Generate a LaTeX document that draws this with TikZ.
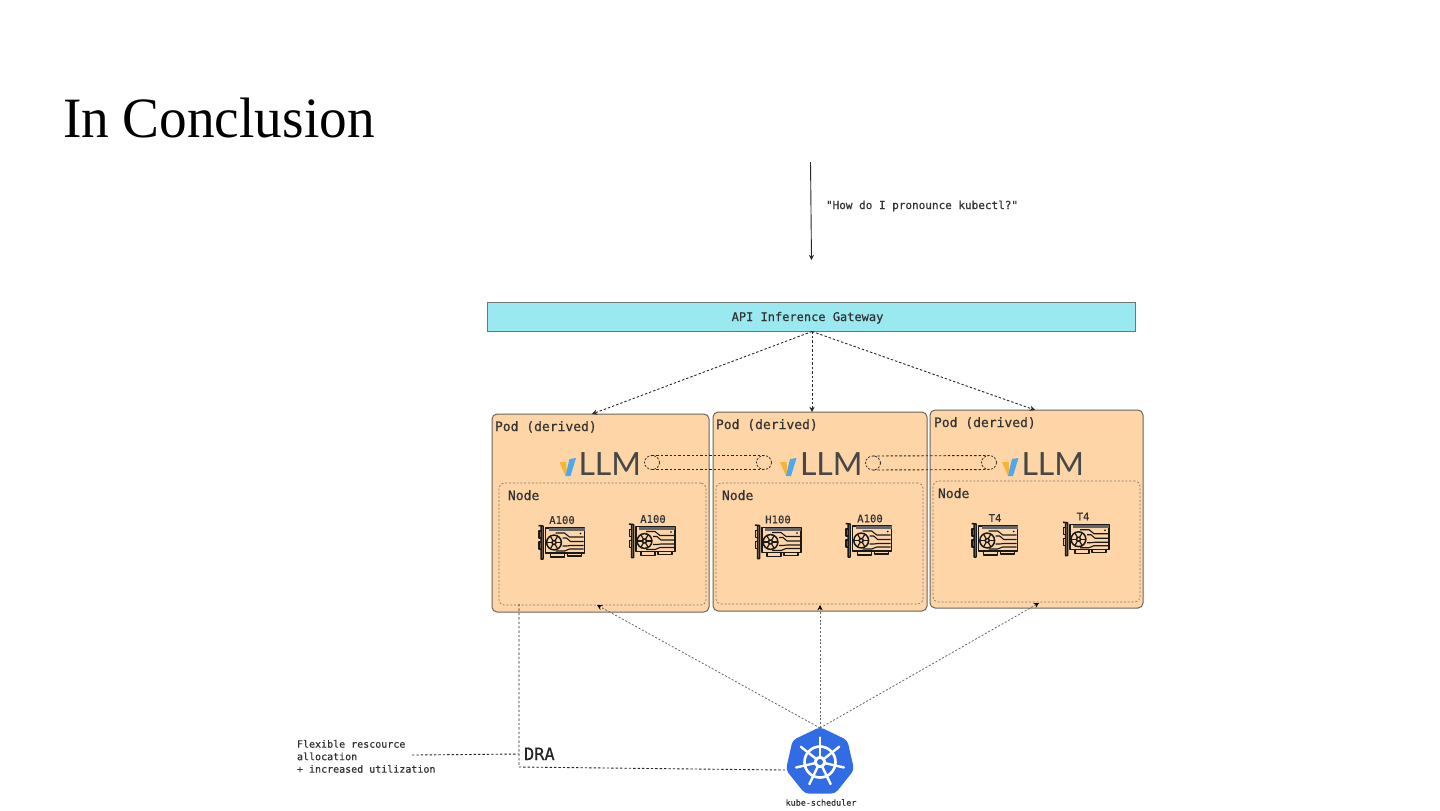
\documentclass[tikz,border=0pt]{standalone}
\usepackage{fontspec}
\setmainfont{Liberation Serif}
\newfontfamily\titlefont[FakeStretch=0.97]{Liberation Serif}
\newfontfamily\codefont[FakeBold=0.5]{DejaVu Sans Mono}
\newfontfamily\logofont{Lato}
\usetikzlibrary{arrows.meta,shapes.geometric,calc}
\definecolor{podfill}{HTML}{FDD5A6}
\definecolor{podline}{HTML}{6B655C}
\definecolor{gwfill}{HTML}{9AE8F0}
\definecolor{inktext}{HTML}{333333}
\definecolor{kubeblue}{HTML}{326CE5}
\definecolor{vorange}{HTML}{F9B233}
\definecolor{vblue}{HTML}{4DA8EE}
\tikzset{
  x=0.5pt,y=-0.5pt,
  podbox/.style={draw=podline,fill=podfill,line width=0.5pt,rounded corners=2.5pt,inner sep=0pt,outer sep=0pt},
  nodebox/.style={draw=podline!85,dash pattern=on 1pt off 0.9pt,line width=0.35pt,rounded corners=2.5pt,inner sep=0pt,outer sep=0pt},
  lab/.style={inner sep=0pt,outer sep=0pt,text=inktext,font=\codefont},
  podlab/.style={lab,anchor=base west,font=\codefont\fontsize{6.5pt}{8pt}\selectfont},
  gpulab/.style={lab,font=\codefont\fontsize{5.3pt}{6.5pt}\selectfont},
  llmlab/.style={inner sep=0pt,outer sep=0pt,anchor=base west,text=inktext!90,font=\logofont\fontsize{16pt}{18pt}\selectfont},
  link/.style={draw=black!85,dash pattern=on 1.2pt off 1pt,line width=0.45pt},
  linkarrow/.style={link,-{Stealth[length=2.6pt,width=2.6pt]}},
  softarrow/.style={draw=black!60,dash pattern=on 1pt off 0.9pt,line width=0.4pt,-{Stealth[length=2.6pt,width=2.6pt,black]}},
  ring/.style={ellipse,draw=black!80,dash pattern=on 1pt off 0.8pt,line width=0.4pt,minimum width=7.5pt,minimum height=7pt,inner sep=0pt,outer sep=0pt},
  pics/gpu/.style={code={
    \begin{scope}[draw=black!90,line width=0.75pt,line join=round]
      % bracket
      \draw (0,0.5) -- (4.5,1) -- (4.5,34) -- (2.5,34) -- (2.5,1);
      \draw (2.5,6) -- (0.5,6) -- (0.5,13) -- (2.5,13);
      \draw (2.5,17) -- (0.5,17) -- (0.5,24) -- (2.5,24);
      % board
      \draw (7,3) rectangle (46,28);
      \fill[black!60] (10,3) rectangle (46,6);
      % fan
      \draw (15.5,17.5) circle[radius=7.4];
      \draw (15.5,17.5) circle[radius=2];
      \foreach \a in {0,60,...,300}
        \draw[line width=0.6pt] ($(15.5,17.5)+(\a:2)$) -- ($(15.5,17.5)+(\a:7.4)$);
      % traces
      \draw[line width=0.55pt] (17,8) -- (26,8) -- (31,12) -- (45,12);
      \draw[line width=0.55pt] (24,13) -- (28,13) -- (32,16.5) -- (45,16.5);
      \draw[line width=0.55pt] (24,21) -- (28,21) -- (32,20.5) -- (45,20.5);
      \draw[line width=0.55pt] (17,26) -- (26,26) -- (31,24) -- (45,24);
      \fill[black] (42,8.5) circle[radius=0.9];
      % connector pins
      \draw (12,28) -- (12,32) -- (26,32) -- (26,28);
      \draw (29,28) -- (29,31) -- (43,31) -- (43,28);
    \end{scope}
  }},
  pics/vmark/.style={code={
    \fill[vorange] (0,4) -- (6.5,4) -- (7.3,13) -- (6,18) -- cycle;
    \fill[vblue] (10,1) -- (16.5,0) -- (11,18) -- (6,18) -- cycle;
  }},
}
\begin{document}
\begin{tikzpicture}
\useasboundingbox (0,0) rectangle (1440,810);
\fill[white] (0,0) rectangle (1440,810);

\node[inner sep=0pt,outer sep=0pt,anchor=base west,font=\titlefont\fontsize{28.5pt}{32pt}\selectfont,text=black] (title) at (63,137) {In Conclusion};

% request
\coordinate (reqtop) at (810.5,162);
\coordinate (reqend) at (811.5,260);
\draw[draw=black!85,line width=0.45pt,-{Stealth[length=2.6pt,width=2.6pt]}] (reqtop) -- (reqend);
\node[lab,anchor=base west,font=\codefont\fontsize{5.5pt}{7pt}\selectfont] (question) at (826,209) {"How do I pronounce kubectl?"};

% gateway
\node[draw=black!55,fill=gwfill,line width=0.4pt,minimum width=324pt,minimum height=14.5pt,inner sep=0pt,outer sep=0pt,text=inktext] (gw) at (811,316.5) {};
\node[lab,anchor=base,font=\codefont\fontsize{6pt}{7pt}\selectfont] (gwl) at (807.5,321) {API Inference Gateway};

% pods
\node[podbox,minimum width=108.5pt,minimum height=99pt] (pod1) at (600.5,513) {};
\node[podbox,minimum width=107pt,minimum height=99.5pt] (pod2) at (820,511.5) {};
\node[podbox,minimum width=106.5pt,minimum height=99pt] (pod3) at (1036.5,509) {};

\node[nodebox,minimum width=103.5pt,minimum height=61pt] (node1) at (602.5,544) {};
\node[nodebox,minimum width=103.5pt,minimum height=60.5pt] (node2) at (819.5,543.5) {};
\node[nodebox,minimum width=103.5pt,minimum height=60.5pt] (node3) at (1036.5,541.5) {};

\node[podlab] (p1l) at (495,431) {Pod (derived)};
\node[podlab] (p2l) at (716,429) {Pod (derived)};
\node[podlab] (p3l) at (934,427) {Pod (derived)};
\node[podlab] (n1l) at (508,500) {Node};
\node[podlab] (n2l) at (722,500) {Node};
\node[podlab] (n3l) at (938,498) {Node};

% vLLM logos
\pic at (559.5,458) {vmark};
\pic at (780,458) {vmark};
\pic at (1002,458) {vmark};
\node[llmlab] (llm1) at (578.5,475.5) {LLM};
\node[llmlab] (llm2) at (800,475.5) {LLM};
\node[llmlab] (llm3) at (1021.5,475.5) {LLM};

% cylinders between vLLM
\node[ring] (c1a) at (652,462.5) {};
\node[ring] (c1b) at (764,462.5) {};
\node[ring] (c2a) at (873,463) {};
\node[ring] (c2b) at (989,462.5) {};
\draw[link] (c1a.north) -- (c1b.north);
\draw[link] (c1a.south) -- (c1b.south);
\draw[link] (c2a.north) -- (c2b.north);
\draw[link] (c2a.south) -- (c2b.south);

% GPUs
\pic at (538.5,525) {gpu};
\pic at (629,523.5) {gpu};
\pic at (755,524.5) {gpu};
\pic at (845.7,523) {gpu};
\pic at (971.7,523) {gpu};
\pic at (1063,521.7) {gpu};
\node[gpulab] (g1) at (562,520) {A100};
\node[gpulab] (g2) at (653,519) {A100};
\node[gpulab] (g3) at (778,519.5) {H100};
\node[gpulab] (g4) at (870,518.5) {A100};
\node[gpulab] (g5) at (995,518) {T4};
\node[gpulab] (g6) at (1083,516.5) {T4};

% gateway -> pods
\coordinate (gwp) at (812,331.5);
\coordinate (a1) at (592,414);
\coordinate (a2) at (812,412);
\coordinate (a3) at (1035,410);
\draw[linkarrow] (gwp) -- (a1);
\draw[linkarrow] (gwp) -- (a2);
\draw[linkarrow] (gwp) -- (a3);

% scheduler
\node[regular polygon,regular polygon sides=7,fill=kubeblue,rounded corners=2pt,minimum size=35pt,inner sep=0pt,outer sep=0pt] (kube) at (820,762) {};
\begin{scope}[shift={(kube.center)}]
  \draw[white,line width=1.3pt] (0,0) circle[radius=15.5];
  \foreach \a in {90,141.43,192.86,244.29,295.71,347.14,38.57}
    \draw[white,line width=1.2pt,line cap=round] (-\a:3) -- (-\a:24.5);
  \fill[white] (0,0) circle[radius=6];
  \fill[kubeblue] (0,0) circle[radius=3];
\end{scope}
\node[lab,font=\codefont\fontsize{4.2pt}{5pt}\selectfont] (kubel) at (821,802.5) {kube-scheduler};

\coordinate (k0) at (820,728);
\coordinate (b1) at (597,605);
\coordinate (b2) at (820,605);
\coordinate (b3) at (1039,603);
\draw[softarrow] (k0) -- (b1);
\draw[softarrow] (k0) -- (b2);
\draw[softarrow] (k0) -- (b3);

% DRA
\coordinate (dratop) at (519,604);
\coordinate (dracorner) at (519,767);
\coordinate (drakube) at (785,770);
\draw[link] (dratop) -- (dracorner) -- (drakube);
\node[lab,anchor=base west,font=\codefont\fontsize{8.5pt}{10pt}\selectfont,text=black!85] (dra) at (524,760) {DRA};
\node[lab,anchor=north west,align=left,font=\codefont\fontsize{5pt}{6.25pt}\selectfont] (flex) at (297,740) {Flexible rescource\\allocation\\+ increased utilization};
\coordinate (flexend) at (412,755);
\coordinate (drajoin) at (519,754);
\draw[link] (flexend) -- (drajoin);
\end{tikzpicture}
\end{document}
